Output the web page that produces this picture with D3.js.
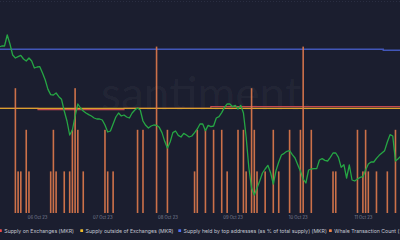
<!DOCTYPE html>
<html><head><meta charset="utf-8">
<script src="https://cdn.jsdelivr.net/npm/d3@7"></script>
<style>
html,body{margin:0;padding:0;background:#1b1e2f;overflow:hidden;}
svg{display:block;}
</style></head>
<body><svg id="c" width="400" height="240"></svg>
<script>
// ---- data ----
const tickDates = ["2023-10-06T00:00","2023-10-07T00:00","2023-10-08T00:00","2023-10-09T00:00","2023-10-10T00:00","2023-10-11T00:00"];
const legendLabels = ["Supply on Exchanges (MKR)","Supply outside of Exchanges (MKR)","Supply held by top addresses (as % of total supply) (MKR)","Whale Transaction Count (>100k USD) (MKR)"];

const priceStart = "2023-10-05T10:00";
const priceStepHours = 1;
const priceValues = [1529.5,1531,1531,1547.5,1534,1517.5,1513,1515,1517,1511.5,1508.5,1513,1508.5,1498,1499.5,1500,1490.5,1480,1466,1458,
1457.5,1460.5,1455,1451,1433.5,1418.5,1397.5,1405,1426,1444,1438,1433.5,1430.5,1428,1426,1423,1421.5,1421.5,1420,1412.5,
1402,1403.5,1414,1424.5,1430.5,1426,1427.5,1424.5,1423,1430.5,1435,1438,1435,1418.5,1412,1408,1411,1412.5,1412,1409,
1401,1388,1378,1387,1401,1403.5,1397,1394.5,1400,1397.5,1394.5,1396,1401,1406.5,1414,1414,1404,1412,1410,1411,
1423,1425,1431,1439,1444,1444,1440,1442,1436.5,1442,1430.5,1394.5,1348,1318,1307.5,1318,1328.5,1340.5,1346.5,1352,
1341,1324,1344,1357,1367.5,1370,1373,1374,1368,1363,1353,1343,1331.5,1325.5,1345,1346.5,1347,1347,1360,1362,
1359.5,1358.5,1364,1370.5,1370.5,1364,1349,1353,1333,1352.5,1330,1328.5,1331.5,1334,1335,1345,1354,1357,1357,1362.5,
1367,1370.5,1374,1387,1398,1396,1358.5,1362,1366,1367.5];

const whaleTimes = ["2023-10-05T16:00","2023-10-05T17:00","2023-10-05T18:00","2023-10-05T20:00","2023-10-05T21:00",
"2023-10-06T05:00","2023-10-06T06:00","2023-10-06T07:00","2023-10-06T10:00","2023-10-06T12:00","2023-10-06T13:00","2023-10-06T14:00","2023-10-06T15:00","2023-10-06T17:00",
"2023-10-07T01:00","2023-10-07T02:00","2023-10-07T04:00","2023-10-07T13:00","2023-10-07T15:00","2023-10-07T20:00",
"2023-10-08T00:00","2023-10-08T10:00","2023-10-08T11:00","2023-10-08T14:00","2023-10-08T17:00","2023-10-08T20:00","2023-10-08T22:00",
"2023-10-09T02:00","2023-10-09T04:00","2023-10-09T05:00","2023-10-09T07:00","2023-10-09T08:00","2023-10-09T09:00","2023-10-09T12:00","2023-10-09T15:00","2023-10-09T17:00","2023-10-09T21:00",
"2023-10-10T01:00","2023-10-10T02:00","2023-10-10T05:00","2023-10-10T13:00","2023-10-10T14:00","2023-10-10T22:00",
"2023-10-11T00:00","2023-10-11T01:00","2023-10-11T02:00","2023-10-11T05:00","2023-10-11T09:00","2023-10-11T12:00"];
const whaleCounts = [3,1,1,2,1, 1,2,1,1,1,2,3,2,1, 2,1,1,2,2,4, 2,1,2,2,2,2,1, 2,2,1,3,2,1,1,2,1,2, 2,4,2,1,1,2, 1,2,1,1,1,2];

const exchTimes = ["2023-10-05T10:00","2023-10-06T00:20","2023-10-07T08:00","2023-10-08T16:00","2023-10-11T14:00"];
const exchValues = [134210,134150,134210,134280,134280];
const outsideTimes = ["2023-10-05T10:00","2023-10-11T14:00"];
const outsideValues = [843000,843000];
const topTimes = ["2023-10-05T10:00","2023-10-11T07:30","2023-10-11T14:00"];
const topValues = [84.62,84.55,84.55];

// ---- setup ----
const W = 400, plotBottom = 213;
const parse = s => new Date(s);
const svg = d3.select("#c");
svg.append("rect").attr("width",W).attr("height",240).attr("fill","#1b1e2f");

const x = d3.scaleTime().domain([parse("2023-10-05T10:20"), parse("2023-10-11T13:40")]).range([0, W]);
const yPrice = d3.scaleLinear().domain([1600, 1240]).range([0, 240]);
const yCount = d3.scaleLinear().domain([0, 5.12]).range([plotBottom, 0]);
const yExch = d3.scaleLinear().domain([129720, 138850]).range([plotBottom, 0]);
const yOut = d3.scaleLinear().domain([793850, 893850]).range([plotBottom, 0]);
const yTop = d3.scaleLinear().domain([73.17, 88.07]).range([plotBottom, 0]);

// watermark
svg.append("text").attr("x",101).attr("y",110).attr("font-family","Lato, 'Open Sans', sans-serif")
  .attr("font-size",46).attr("fill","#ffffff").attr("fill-opacity",0.045).text("santiment.");

// top faint border
svg.append("line").attr("x1",0).attr("x2",W).attr("y1",1.5).attr("y2",1.5)
  .attr("stroke","#2a2e42").attr("stroke-dasharray","1,2");

// horizontal series
function stepLine(times, values, scale, color, width){
  const pts = times.map((t,i)=>[parse(t), values[i]]);
  svg.append("path").datum(pts)
    .attr("fill","none").attr("stroke",color).attr("stroke-width",width)
    .attr("d", d3.line().curve(d3.curveStepAfter).x(d=>x(d[0])).y(d=>scale(d[1])));
}
stepLine(topTimes, topValues, yTop, "#4256b8", 1.4);
stepLine(exchTimes, exchValues, yExch, "#c2474f", 1.2);
stepLine(outsideTimes, outsideValues, yOut, "#d9a22e", 1.2);

// whale bars
const bars = whaleTimes.map((t,i)=>({t:parse(t), c:whaleCounts[i]}));
svg.append("g").selectAll("rect").data(bars).join("rect")
  .attr("x", d=>x(d.t)-0.8).attr("width",1.6)
  .attr("y", d=>yCount(d.c)).attr("height", d=>plotBottom - yCount(d.c))
  .attr("fill","#e07a4c").attr("fill-opacity",0.9);

// price line
const t0 = parse(priceStart);
const price = priceValues.map((v,i)=>[d3.timeHour.offset(t0, i*priceStepHours), v]);
svg.append("path").datum(price)
  .attr("fill","none").attr("stroke","#26a644").attr("stroke-width",1.3).attr("stroke-linejoin","round")
  .attr("d", d3.line().x(d=>x(d[0])).y(d=>yPrice(d[1])));

// x axis
const axis = d3.axisBottom(x).tickValues(tickDates.map(parse)).tickFormat(d3.timeFormat("%d %b %y")).tickSize(0).tickPadding(2);
const gx = svg.append("g").attr("transform",`translate(0,${plotBottom+1})`).call(axis);
gx.select(".domain").remove();
gx.selectAll("text").attr("fill","#7f8499").attr("font-size",4.2).attr("font-family","Inter, 'Open Sans', sans-serif");

// legend
const legColors = ["#ef4b4b","#f1bd2b","#4c6ef5","#f0844a"];
const legX = [-1, 80.3, 178.3, 329];
const lg = svg.append("g");
legendLabels.forEach((lab,i)=>{
  lg.append("rect").attr("x",legX[i]).attr("y",229.3).attr("width",2.8).attr("height",2.8).attr("rx",0.4).attr("fill",legColors[i]);
  lg.append("text").attr("x",legX[i]+5.3).attr("y",232.6).attr("font-size",5.2)
    .attr("font-family","Inter, 'Open Sans', sans-serif").attr("fill","#c3c6d2").text(lab);
});
</script></body></html>
